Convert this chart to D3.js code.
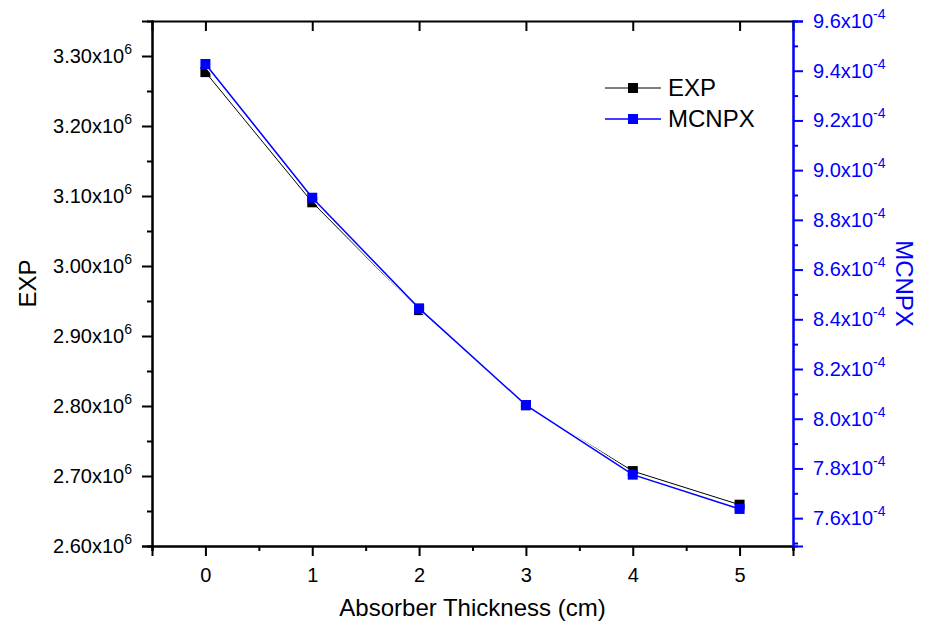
<!DOCTYPE html>
<html>
<head>
<meta charset="utf-8">
<script src="https://cdn.jsdelivr.net/npm/d3@7"></script>
<style>
  body { margin: 0; background: #fff; }
  svg { font-family: "Liberation Sans", Arial, sans-serif; }
</style>
</head>
<body>
<svg width="928" height="630"></svg>
<script>
// data
const thickness = [0, 1, 2, 3, 4, 5];
const expValues = [3.277e6, 3.091e6, 2.937e6, 2.801e6, 2.707e6, 2.659e6];
const mcnpxValues = [9.427e-4, 8.889e-4, 8.444e-4, 8.055e-4, 7.775e-4, 7.637e-4];
const leftTicks = [2.6e6, 2.7e6, 2.8e6, 2.9e6, 3.0e6, 3.1e6, 3.2e6, 3.3e6];
const rightTicks = [7.6e-4, 7.8e-4, 8.0e-4, 8.2e-4, 8.4e-4, 8.6e-4, 8.8e-4, 9.0e-4, 9.2e-4, 9.4e-4, 9.6e-4];
const xTicks = [0, 1, 2, 3, 4, 5];

const svg = d3.select("svg");
const margin = { top: 21, right: 135, bottom: 84, left: 152 };
const width = +svg.attr("width") - margin.left - margin.right;
const height = +svg.attr("height") - margin.top - margin.bottom;
const g = svg.append("g").attr("transform", `translate(${margin.left},${margin.top})`);
const blue = "#0000ff";

const x = d3.scaleLinear().domain([-0.5, 5.5]).range([0, width]);
const yL = d3.scaleLinear().domain([2.6e6, 3.35e6]).range([height, 0]);
const yR = d3.scaleLinear().domain([7.488e-4, 9.6e-4]).range([height, 0]);

// minor ticks
const xMinor = d3.range(-0.5, 5.51, 1);
const lMinor = d3.range(2.65e6, 3.3e6, 1e5);
const rMinor = d3.range(7.5e-4, 9.55e-4, 2e-5);

function styleAxis(sel, color) {
  sel.select(".domain").attr("stroke", color).attr("stroke-width", 2);
  sel.selectAll(".tick line").attr("stroke", color).attr("stroke-width", 2);
  sel.selectAll("text").attr("fill", color).attr("font-size", 20);
}

// minor tick axes
g.append("g").attr("transform", `translate(0,${height})`)
  .call(d3.axisBottom(x).tickValues(xMinor).tickSize(5).tickFormat(""))
  .call(s => styleAxis(s, "#000"));
g.append("g")
  .call(d3.axisLeft(yL).tickValues(lMinor).tickSize(5).tickFormat(""))
  .call(s => styleAxis(s, "#000"));
g.append("g").attr("transform", `translate(${width},0)`)
  .call(d3.axisRight(yR).tickValues(rMinor).tickSize(5).tickFormat(""))
  .call(s => styleAxis(s, blue));

// X axis
g.append("g").attr("transform", `translate(0,${height})`)
  .call(d3.axisBottom(x).tickValues(xTicks).tickSize(10).tickPadding(12).tickFormat(d3.format("d")))
  .call(s => styleAxis(s, "#000"));

// top frame with inward ticks
g.append("g")
  .call(d3.axisTop(x).tickValues(xTicks).tickSize(-10).tickFormat(""))
  .call(s => styleAxis(s, "#000"));

// left axis
const leftAxis = g.append("g")
  .call(d3.axisLeft(yL).tickValues(leftTicks).tickSize(10).tickPadding(10))
  .call(s => styleAxis(s, "#000"));
leftAxis.selectAll(".tick text").each(function(d) {
  const t = d3.select(this).text("");
  t.append("tspan").text((d / 1e6).toFixed(2) + "x10");
  t.append("tspan").attr("font-size", 14).attr("dy", -9).text("6");
});

// right axis
const rightAxis = g.append("g").attr("transform", `translate(${width},0)`)
  .call(d3.axisRight(yR).tickValues(rightTicks).tickSize(10).tickPadding(10))
  .call(s => styleAxis(s, blue));
rightAxis.selectAll(".tick text").each(function(d) {
  const t = d3.select(this).text("");
  t.append("tspan").text((d / 1e-4).toFixed(1) + "x10");
  t.append("tspan").attr("font-size", 14).attr("dy", -9).text("-4");
});

// axis titles
svg.append("text")
  .attr("transform", `translate(36,${margin.top + height / 2}) rotate(-90)`)
  .attr("text-anchor", "middle").attr("font-size", 24).text("EXP");
svg.append("text")
  .attr("transform", `translate(896,${margin.top + height / 2}) rotate(90)`)
  .attr("text-anchor", "middle").attr("font-size", 24).attr("fill", blue).text("MCNPX");
svg.append("text")
  .attr("x", margin.left + width / 2).attr("y", 616)
  .attr("text-anchor", "middle").attr("font-size", 24).text("Absorber Thickness (cm)");

// series
const series = [
  { name: "EXP", values: expValues, y: yL, color: "#000", lw: 1 },
  { name: "MCNPX", values: mcnpxValues, y: yR, color: blue, lw: 1.5 }
];

series.forEach(s => {
  const pts = thickness.map((t, i) => [t, s.values[i]]);
  const line = d3.line().x(d => x(d[0])).y(d => s.y(d[1]));
  g.append("path").datum(pts)
    .attr("fill", "none").attr("stroke", "#fff").attr("stroke-width", s.lw + 2.5)
    .attr("d", line);
  g.append("path").datum(pts)
    .attr("fill", "none").attr("stroke", s.color).attr("stroke-width", s.lw)
    .attr("d", line);
  g.selectAll(null).data(pts).enter().append("rect")
    .attr("x", d => x(d[0]) - 5).attr("y", d => s.y(d[1]) - 5)
    .attr("width", 10).attr("height", 10)
    .attr("fill", s.color);
});

// legend
const legend = svg.append("g");
series.forEach((s, i) => {
  const ly = 88 + i * 31;
  legend.append("line").attr("x1", 605).attr("x2", 661).attr("y1", ly).attr("y2", ly)
    .attr("stroke", s.color).attr("stroke-width", s.lw);
  legend.append("rect").attr("x", 628).attr("y", ly - 5).attr("width", 10).attr("height", 10)
    .attr("fill", s.color);
  legend.append("text").attr("x", 668).attr("y", ly).attr("dy", "0.35em")
    .attr("font-size", 24).text(s.name);
});
</script>
</body>
</html>
